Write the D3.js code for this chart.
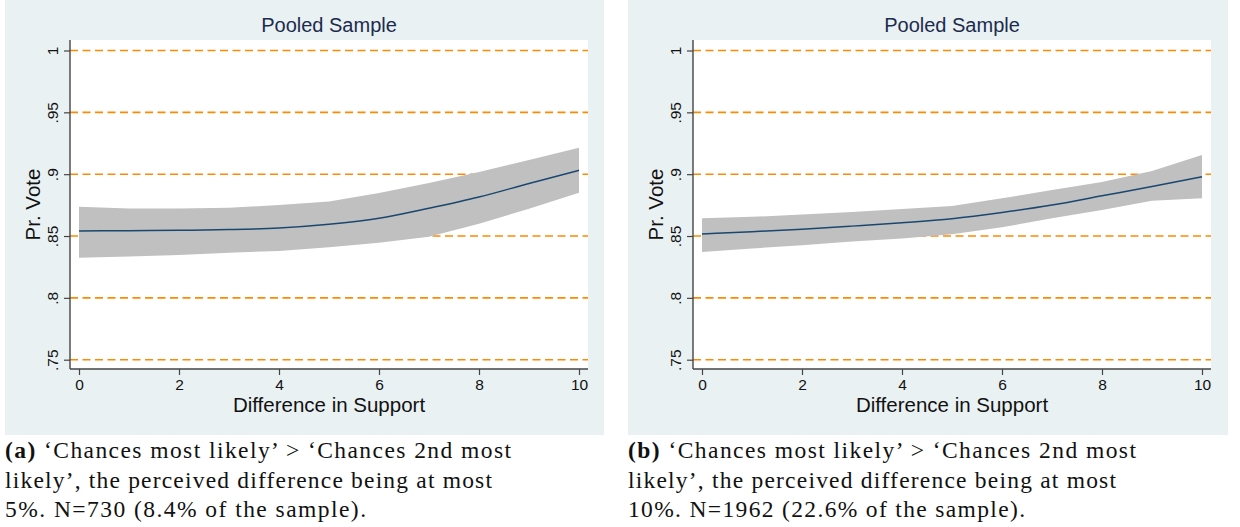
<!DOCTYPE html>
<html>
<head>
<meta charset="utf-8">
<script src="https://cdn.jsdelivr.net/npm/d3@7"></script>
<style>
  html, body { margin: 0; padding: 0; background: #ffffff; }
  svg { display: block; }
</style>
</head>
<body>
<svg id="chart" width="1240" height="527"></svg>
<script>
// Difference in support (x values where predictions were computed)
const support = [0, 1, 2, 3, 4, 5, 6, 7, 8, 9, 10];

// Panel (a): predicted Pr(vote) and 95% CI
const predA  = [0.8541, 0.8543, 0.8546, 0.8552, 0.8565, 0.8595, 0.8643, 0.8724, 0.8815, 0.8925, 0.9031];
const upperA = [0.8737, 0.8722, 0.8722, 0.8728, 0.8750, 0.8780, 0.8848, 0.8929, 0.9018, 0.9115, 0.9214];
const lowerA = [0.8325, 0.8335, 0.8347, 0.8365, 0.8379, 0.8409, 0.8446, 0.8495, 0.8600, 0.8720, 0.8850];

// Panel (b): predicted Pr(vote) and 95% CI
const predB  = [0.8516, 0.8535, 0.8555, 0.8580, 0.8607, 0.8640, 0.8690, 0.8750, 0.8825, 0.8900, 0.8980];
const upperB = [0.8643, 0.8655, 0.8673, 0.8695, 0.8718, 0.8743, 0.8805, 0.8872, 0.8937, 0.9025, 0.9155];
const lowerB = [0.8370, 0.8400, 0.8425, 0.8455, 0.8480, 0.8515, 0.8570, 0.8643, 0.8710, 0.8786, 0.8805];

// Axis ticks and labels
const xTicks = [0, 2, 4, 6, 8, 10];
const yTicks = [0.75, 0.8, 0.85, 0.9, 0.95, 1];
const yTickLabels = [".75", ".8", ".85", ".9", ".95", "1"];

const chartTitle = "Pooled Sample";
const xTitle = "Difference in Support";
const yTitle = "Pr. Vote";

const captionA = [
  ["(a)", " \u2018Chances most likely\u2019 > \u2018Chances 2nd most"],
  ["", "likely\u2019, the perceived difference being at most"],
  ["", "5%. N=730 (8.4% of the sample)."]
];
const captionB = [
  ["(b)", " \u2018Chances most likely\u2019 > \u2018Chances 2nd most"],
  ["", "likely\u2019, the perceived difference being at most"],
  ["", "10%. N=1962 (22.6% of the sample)."]
];

const svg = d3.select("#chart");

const panels = [
  { bg: [5, 604], plot: [70, 588], pred: predA, upper: upperA, lower: lowerA,
    caption: captionA, capWidths: [506, 487, 361] },
  { bg: [628, 1228], plot: [693, 1211], pred: predB, upper: upperB, lower: lowerB,
    caption: captionB, capWidths: [508, 488, 397] }
];

const plotTop = 40, plotBottom = 369;
const font = "'Liberation Sans', Arial, Helvetica, sans-serif";

panels.forEach(p => {
  const g = svg.append("g");

  // panel background
  g.append("rect")
    .attr("x", p.bg[0]).attr("y", 0)
    .attr("width", p.bg[1] - p.bg[0]).attr("height", 435)
    .attr("fill", "#eaf1f3");

  // plot region
  g.append("rect")
    .attr("x", p.plot[0]).attr("y", plotTop)
    .attr("width", p.plot[1] - p.plot[0]).attr("height", plotBottom - plotTop)
    .attr("fill", "#ffffff");

  const x = d3.scaleLinear().domain([0, 10]).range([p.plot[0] + 9, p.plot[1] - 9]);
  const y = d3.scaleLinear().domain([0.75, 1]).range([359.7, 50.5]);

  // dashed reference lines
  g.selectAll("line.grid").data(yTicks).join("line")
    .attr("class", "grid")
    .attr("x1", p.plot[0]).attr("x2", p.plot[1])
    .attr("y1", d => y(d)).attr("y2", d => y(d))
    .attr("stroke", "#ff8a00").attr("stroke-width", 1.6)
    .attr("stroke-dasharray", "8,4.5");

  // confidence band
  const rows = support.map((s, i) => ({ s, lo: p.lower[i], hi: p.upper[i], m: p.pred[i] }));
  g.append("path").datum(rows)
    .attr("d", d3.area().x(d => x(d.s)).y0(d => y(d.lo)).y1(d => y(d.hi)).curve(d3.curveLinear))
    .attr("fill", "#c0c0c0");

  // predicted probability
  g.append("path").datum(rows)
    .attr("d", d3.line().x(d => x(d.s)).y(d => y(d.m)).curve(d3.curveMonotoneX))
    .attr("fill", "none").attr("stroke", "#1a476f").attr("stroke-width", 1.5);

  // y axis
  const yAxis = d3.axisLeft(y).tickValues(yTicks).tickSize(6)
    .tickFormat((d, i) => yTickLabels[i]);
  const ya = g.append("g").attr("transform", `translate(${p.plot[0]},0)`).call(yAxis)
    .attr("font-size", null).attr("font-family", null);
  ya.select(".domain").attr("d", `M0,${plotTop}V${plotBottom}`).attr("stroke", "#444").attr("stroke-width", 1.4);
  ya.selectAll(".tick line").attr("stroke", "#444").attr("stroke-width", 1.2);
  ya.selectAll(".tick text")
    .attr("x", null).attr("dy", null).attr("y", null)
    .attr("transform", "translate(-12,0) rotate(-90)")
    .attr("text-anchor", "middle")
    .style("font-family", font).style("font-size", "15.5px").attr("fill", "#111");

  // x axis
  const xAxis = d3.axisBottom(x).tickValues(xTicks).tickSize(6).tickFormat(d3.format("d"));
  const xa = g.append("g").attr("transform", `translate(0,${plotBottom})`).call(xAxis)
    .attr("font-size", null).attr("font-family", null);
  xa.select(".domain").attr("d", `M${p.plot[0]},0H${p.plot[1]}`).attr("stroke", "#444").attr("stroke-width", 1.4);
  xa.selectAll(".tick line").attr("stroke", "#444").attr("stroke-width", 1.2);
  xa.selectAll(".tick text")
    .attr("y", 21).attr("dy", null)
    .style("font-family", font).style("font-size", "15.5px").attr("fill", "#111");

  const cx = (p.plot[0] + p.plot[1]) / 2;

  // title
  g.append("text").attr("x", cx).attr("y", 32)
    .attr("text-anchor", "middle").attr("font-family", font).attr("font-size", 20)
    .attr("fill", "#1c2b4d").text(chartTitle);

  // axis titles
  g.append("text").attr("x", cx).attr("y", 412)
    .attr("text-anchor", "middle").attr("font-family", font).attr("font-size", 20.5)
    .attr("fill", "#111").text(xTitle);
  g.append("text")
    .attr("transform", `translate(${p.plot[0] - 30},${(plotTop + plotBottom) / 2}) rotate(-90)`)
    .attr("text-anchor", "middle").attr("font-family", font).attr("font-size", 20.5)
    .attr("fill", "#111").text(yTitle);

  // caption below the panel
  p.caption.forEach((line, i) => {
    const t = g.append("text")
      .attr("x", p.bg[0]).attr("y", 458 + i * 29.5)
      .attr("font-family", "'Liberation Serif', 'Times New Roman', serif")
      .attr("font-size", 23.5).attr("fill", "#111")
      .attr("textLength", p.capWidths[i]).attr("lengthAdjust", "spacing");
    if (line[0]) t.append("tspan").attr("font-weight", "bold").text(line[0]);
    t.append("tspan").text(line[1]);
  });
});
</script>
</body>
</html>
